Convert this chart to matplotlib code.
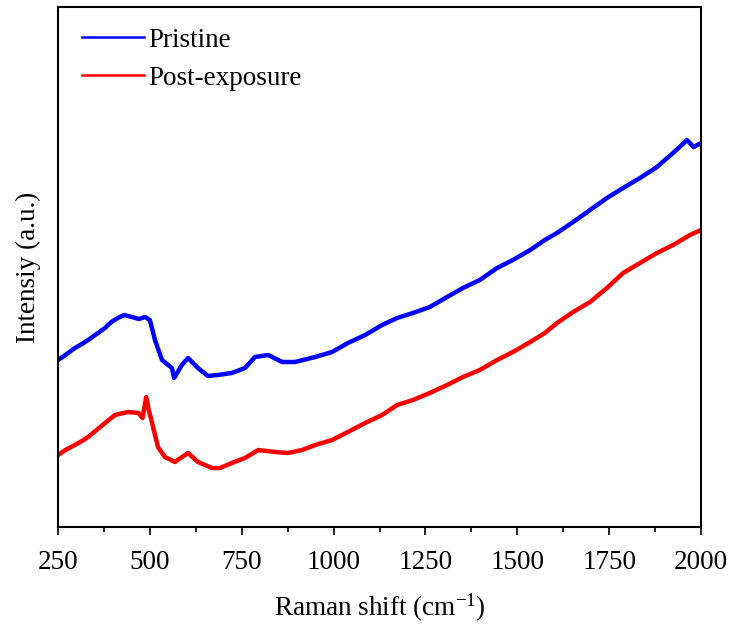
import matplotlib
matplotlib.use("Agg")
import matplotlib.pyplot as plt
import numpy as np

plt.rcParams['font.family'] = ['Liberation Serif', 'DejaVu Serif']
plt.rcParams['mathtext.fontset'] = 'custom'
plt.rcParams['mathtext.rm'] = 'Liberation Serif'
plt.rcParams['mathtext.it'] = 'Liberation Serif:italic'

# Raman shift (cm-1) and intensity (a.u.)
pristine_x = [250, 270, 296, 315, 332, 355, 378, 395, 413, 430, 451, 470, 487, 500, 514,
              533, 560, 566, 587, 604, 631, 658, 685, 723, 759, 786, 822, 860, 895,
              950, 996, 1039, 1086, 1132, 1173, 1216, 1262, 1309, 1352, 1398, 1445,
              1488, 1535, 1575, 1608, 1652, 1698, 1744, 1788, 1834, 1880, 1924, 1962,
              1980, 2000]
pristine_y = [167, 172, 179, 183, 187, 193, 199, 205, 209, 212, 210, 208, 210, 207, 187,
              167, 159, 149, 162, 169, 159, 151, 152, 154, 159, 170, 172, 165, 165,
              170, 175, 184, 192, 202, 209, 214, 220, 230, 239, 247, 259,
              267, 277, 287, 294, 305, 317, 329, 339, 349, 360, 374, 387,
              380, 384]

post_x = [250, 270, 296, 315, 332, 355, 378, 405, 440, 469, 480, 490, 497, 506, 522,
          541, 568, 604, 631, 669, 691, 723, 759, 795, 841, 876, 914, 950, 996, 1039,
          1086, 1132, 1173, 1216, 1262, 1309, 1352, 1398, 1445, 1488, 1535, 1575,
          1608, 1652, 1698, 1744, 1788, 1834, 1880, 1924, 1970, 2000]
post_y = [72, 77, 82, 86, 90, 97, 104, 112, 115, 114, 109, 130, 117, 104, 80,
          70, 65, 74, 65, 59, 59, 64, 69, 77, 75, 74, 77, 82, 87, 95,
          104, 112, 122, 127, 134, 142, 150, 157, 167, 175, 185, 194,
          204, 215, 225, 239, 254, 264, 274, 282, 292, 297]

labels = ["Pristine", "Post-exposure"]
xticks = [250, 500, 750, 1000, 1250, 1500, 1750, 2000]

fig = plt.figure(figsize=(7.35, 6.32), dpi=100)
ax = fig.add_axes([58/735, 1-527/632, 643/735, 520/632])

ax.plot(pristine_x, pristine_y, color='#0000ff', lw=3.2, label=labels[0])
ax.plot(post_x, post_y, color='#ff0000', lw=3.2, label=labels[1])

ax.set_xlim(250, 2000)
ax.set_ylim(0, 520)
ax.set_xticks(xticks)
ax.set_xticks([375, 625, 875, 1125, 1375, 1625, 1875], minor=True)
ax.set_yticks([])
ax.tick_params(axis='x', which='major', direction='out', length=6, width=1.2,
               labelsize=19.5, pad=10.5)
ax.tick_params(axis='x', which='minor', direction='out', length=3.5, width=1.2)
for s in ax.spines.values():
    s.set_linewidth(1.5)

ax.set_xlabel("Raman shift (cm$^{-1}$)", fontsize=19.5, labelpad=12)
ax.set_ylabel("Intensiy (a.u.)", fontsize=19.5, labelpad=12)

leg = ax.legend(loc='upper left', bbox_to_anchor=(0.037, 0.96), frameon=False,
                fontsize=19.5, handlelength=2.3, handletextpad=0.15, labelspacing=0.48,
                borderpad=0, borderaxespad=0)
for line in leg.get_lines():
    line.set_linewidth(1.8)

fig.savefig("out.png", dpi=100)
